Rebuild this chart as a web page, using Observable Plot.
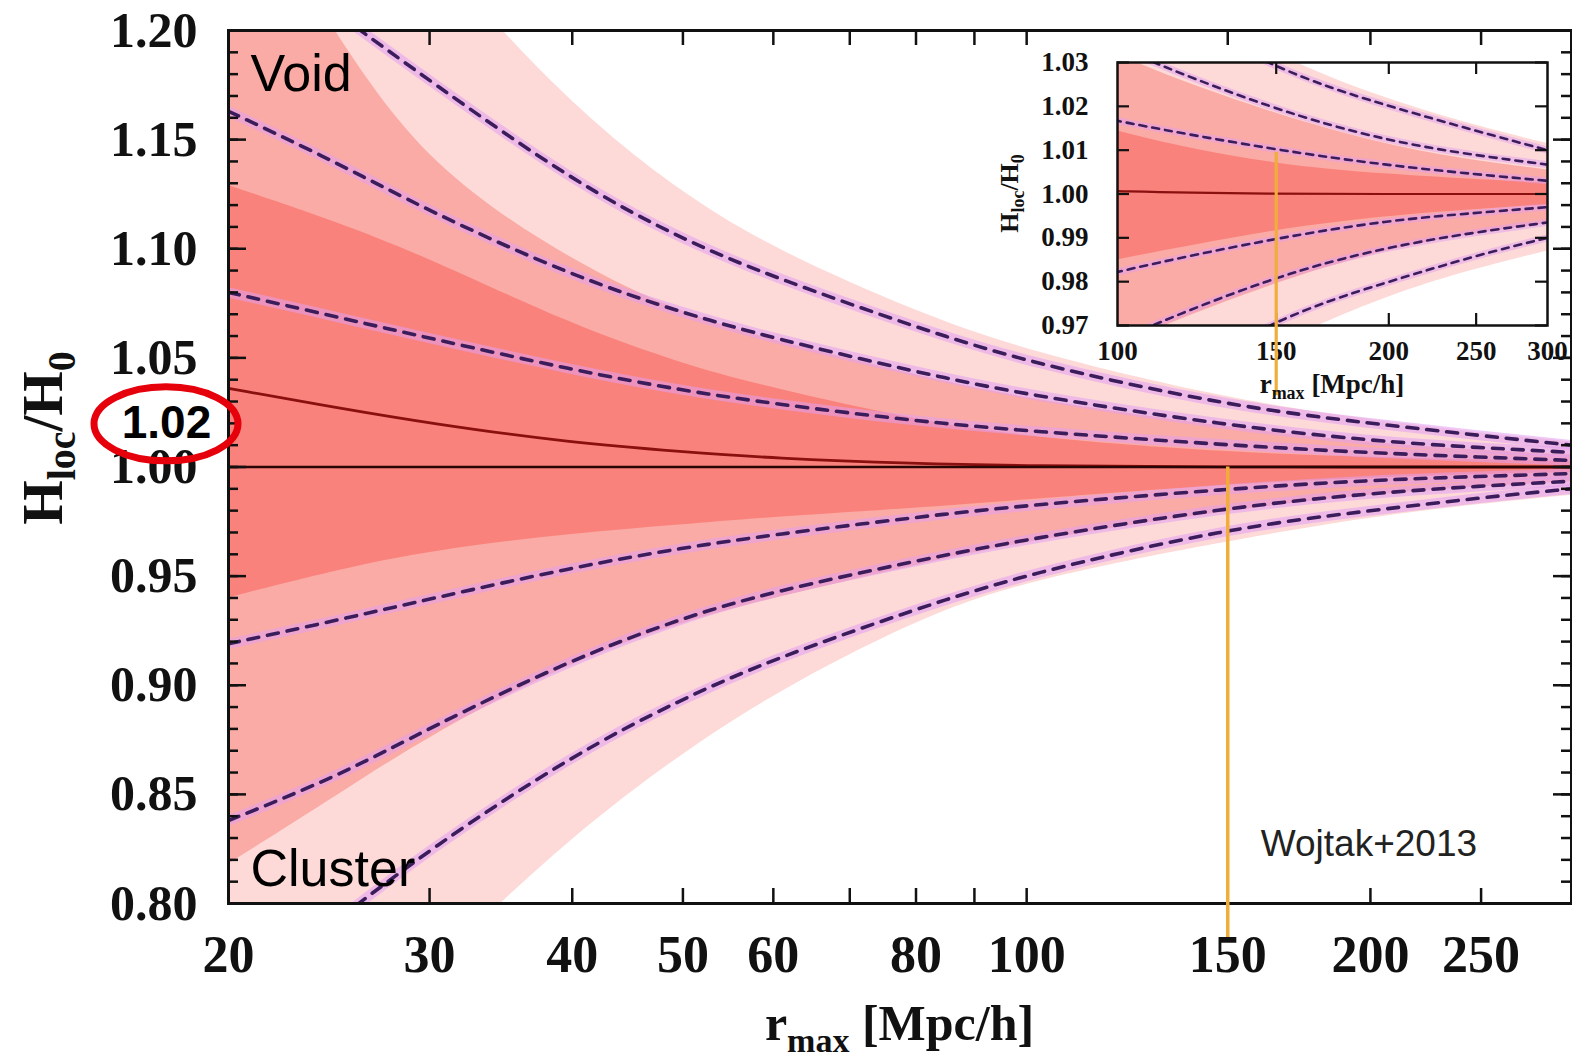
<!DOCTYPE html>
<html><head><meta charset="utf-8">
<script src="https://cdn.jsdelivr.net/npm/d3@7"></script>
<script src="https://cdn.jsdelivr.net/npm/@observablehq/plot@0.6"></script>
<style>
body{margin:0;background:#fff;}
#wrap{position:relative;width:1572px;height:1064px;overflow:hidden;background:#fff;}
#wrap svg{position:absolute;left:0;top:0;}
#wrap svg.inset{left:990px;top:40px;}
</style></head><body><div id="wrap"></div>
<script>
// ---- data ----
const rMax  = [20, 25, 30, 40, 50, 60, 80, 100, 150, 200, 250, 300];
const meanH = [1.036, 1.027, 1.020, 1.011, 1.007, 1.004, 1.0015, 1.0005, 1.000, 1.000, 1.000, 1.000];
// dashed curves (1/2/3 sigma)
const d1u = [1.080, 1.0685, 1.059, 1.0445, 1.035, 1.029, 1.021, 1.0165, 1.010, 1.0065, 1.0045, 1.003];
const d2u = [1.163, 1.139, 1.117, 1.0875, 1.0705, 1.059, 1.0435, 1.033, 1.019, 1.012, 1.0088, 1.0067];
const d3u = [1.245, 1.207, 1.177, 1.131, 1.104, 1.087, 1.064, 1.048, 1.028, 1.020, 1.0144, 1.010];
const d1l = [0.919, 0.930, 0.9395, 0.954, 0.963, 0.969, 0.977, 0.9825, 0.990, 0.994, 0.9957, 0.997];
const d2l = [0.838, 0.8585, 0.8805, 0.912, 0.931, 0.943, 0.957, 0.967, 0.9815, 0.988, 0.9913, 0.9935];
const d3l = [0.755, 0.793, 0.825, 0.868, 0.894, 0.912, 0.935, 0.951, 0.972, 0.980, 0.986, 0.990];
// shaded bands
const b1u = [1.129, 1.112, 1.0955, 1.065, 1.047, 1.036, 1.0215, 1.0135, 1.0065, 1.0045, 1.0033, 1.0025];
const b1l = [0.940, 0.953, 0.9615, 0.9695, 0.9735, 0.977, 0.981, 0.985, 0.992, 0.995, 0.9965, 0.9975];
const b2u = [1.280, 1.195, 1.137, 1.094, 1.070, 1.058, 1.042, 1.031, 1.018, 1.011, 1.0075, 1.0055];
const b2l = [0.818, 0.850, 0.877, 0.911, 0.929, 0.940, 0.955, 0.966, 0.980, 0.9875, 0.991, 0.9933];
const b3u = [1.400, 1.310, 1.235, 1.165, 1.125, 1.100, 1.071, 1.053, 1.031, 1.0215, 1.0155, 1.0115];
const b3l = [0.650, 0.720, 0.770, 0.831, 0.869, 0.896, 0.930, 0.948, 0.966, 0.977, 0.983, 0.987];

const xTickVals   = [30, 40, 50, 60, 70, 80, 90, 100, 150, 200, 250];
const xLabelVals  = [20, 30, 40, 50, 60, 80, 100, 150, 200, 250];
const yMajorVals  = [0.80, 0.85, 0.90, 0.95, 1.00, 1.05, 1.10, 1.15, 1.20];
const yMinorVals  = d3.range(80, 121).map(v => v / 100);
const insetXTicks = [150, 200, 250];
const insetXLabels = [100, 150, 200, 250, 300];
const insetYVals  = [0.97, 0.98, 0.99, 1.00, 1.01, 1.02, 1.03];
const markRadius  = 150;          // Wojtak+2013 scale
const highlight   = 1.02;

const rows = rMax.map((r, i) => ({
  r, mean: meanH[i],
  d1u: d1u[i], d2u: d2u[i], d3u: d3u[i], d1l: d1l[i], d2l: d2l[i], d3l: d3l[i],
  b1u: b1u[i], b1l: b1l[i], b2u: b2u[i], b2l: b2l[i], b3u: b3u[i], b3l: b3l[i]
}));
const dashKeys = ["d1u", "d2u", "d3u", "d1l", "d2l", "d3l"];

// ---- styles ----
const serif = "'Liberation Serif','Times New Roman',serif";
const sans = "'Liberation Sans',Arial,Helvetica,sans-serif";
const cLight = "#fddad7", cMed = "#fbaba5", cDark = "#f9837c";
const cHalo = "#e29ef2", cDash = "#3b1d5c", cOrange = "#f0ad3a";
const curve = "basis";

// ---- main chart ----
const W = 1572, H = 1064, mL = 228, mR = 1, mT = 30, mB = 161;
const iw = W - mL - mR, ih = H - mT - mB;
const tick = {stroke: "#111", strokeWidth: 2.5};

const main = Plot.plot({
  width: W, height: H, marginLeft: mL, marginRight: mR, marginTop: mT, marginBottom: mB,
  x: {type: "log", domain: [20, 300]},
  y: {domain: [0.8, 1.2]},
  style: {fontFamily: serif, background: "transparent", overflow: "visible"},
  marks: [
    Plot.areaY(rows, {x: "r", y1: "b3l", y2: "b3u", fill: cLight, curve, clip: true}),
    Plot.areaY(rows, {x: "r", y1: "b2l", y2: "b2u", fill: cMed, curve, clip: true}),
    Plot.areaY(rows, {x: "r", y1: "b1l", y2: "b1u", fill: cDark, curve, clip: true}),
    ...dashKeys.map(k => Plot.line(rows, {x: "r", y: k, stroke: cHalo, strokeWidth: 10, strokeOpacity: 0.55, curve, clip: true})),
    ...dashKeys.map(k => Plot.line(rows, {x: "r", y: k, stroke: cDash, strokeWidth: 3.6, strokeDasharray: "11,9", curve, clip: true})),
    Plot.line(rows, {x: "r", y: "mean", stroke: "#8a0f0f", strokeWidth: 2.8, curve, clip: true}),
    Plot.ruleY([1], {stroke: "#2a0505", strokeWidth: 2.6}),
    Plot.tickX(xTickVals, {x: d => d, insetTop: ih - 15, ...tick}),
    Plot.tickX(xTickVals, {x: d => d, insetBottom: ih - 15, ...tick}),
    Plot.tickY(yMinorVals, {y: d => d, insetRight: iw - 10, ...tick}),
    Plot.tickY(yMajorVals, {y: d => d, insetRight: iw - 18, ...tick}),
    Plot.tickY(yMinorVals, {y: d => d, insetLeft: iw - 10, ...tick}),
    Plot.tickY(yMajorVals, {y: d => d, insetLeft: iw - 18, ...tick}),
    Plot.frame({stroke: "#111", strokeWidth: 3}),
    Plot.axisX(xLabelVals, {tickSize: 0, tickPadding: 32, fontSize: 52, fontWeight: "bold", fill: "#111", tickFormat: d => String(d), label: null}),
    Plot.axisY(yMajorVals, {tickSize: 0, tickPadding: 31, fontSize: 50, fontWeight: "bold", fill: "#111", tickFormat: d3.format(".2f"), label: null}),
    Plot.ruleX([markRadius], {y1: 1.0, y2: 0.7844, stroke: cOrange, strokeWidth: 3.5}),
    Plot.text(["Void"], {frameAnchor: "top-left", dx: 22, dy: 60, lineAnchor: "bottom", textAnchor: "start", fontSize: 52, fontFamily: sans, fill: "#000"}),
    Plot.text(["Cluster"], {frameAnchor: "bottom-left", dx: 22, dy: -18, lineAnchor: "bottom", textAnchor: "start", fontSize: 52, fontFamily: sans, fill: "#000"}),
    Plot.text(["Wojtak+2013"], {x: () => markRadius, y: () => 0.8, dx: 33, dy: -48, lineAnchor: "bottom", textAnchor: "start", fontSize: 37, fontFamily: sans, fill: "#222"}),
    Plot.text([highlight], {y: d => d, frameAnchor: "left", dx: -62, text: d => d.toFixed(2), textAnchor: "middle", fontSize: 46, fontWeight: "bold", fontFamily: sans, fill: "#000"})
  ]
});
document.getElementById("wrap").appendChild(main);

const ms = d3.select(main);
const ys = main.scale("y");
ms.append("ellipse")
  .attr("cx", mL - 62).attr("cy", ys.apply(highlight) + 1)
  .attr("rx", 72).attr("ry", 37)
  .attr("fill", "none").attr("stroke", "#e6000c").attr("stroke-width", 7);

// axis titles with subscripts
const xt = ms.append("text").attr("x", mL + iw / 2).attr("y", 1040)
  .attr("text-anchor", "middle").attr("font-family", serif).attr("font-weight", "bold").attr("fill", "#111").attr("font-size", 50);
xt.append("tspan").text("r");
xt.append("tspan").attr("font-size", 34).attr("dy", 12).text("max");
xt.append("tspan").attr("dy", -12).text(" [Mpc/h]");

const yt = ms.append("text").attr("transform", `translate(62,438) rotate(-90)`)
  .attr("text-anchor", "middle").attr("font-family", serif).attr("font-weight", "bold").attr("fill", "#111").attr("font-size", 57);
yt.append("tspan").text("H");
yt.append("tspan").attr("font-size", 40).attr("dy", 13).text("loc");
yt.append("tspan").attr("dy", -13).text("/H");
yt.append("tspan").attr("font-size", 40).attr("dy", 13).text("0");

// ---- inset ----
const IW = 572, IH = 370, iL = 127, iR = 15, iT = 22, iB = 85;
const iiw = IW - iL - iR, iih = IH - iT - iB;
const itick = {stroke: "#111", strokeWidth: 2.2};
const inset = Plot.plot({
  width: IW, height: IH, marginLeft: iL, marginRight: iR, marginTop: iT, marginBottom: iB,
  x: {type: "log", domain: [100, 300]},
  y: {domain: [0.97, 1.03]},
  style: {fontFamily: serif, background: "transparent", overflow: "visible"},
  marks: [
    Plot.frame({fill: "white"}),
    Plot.areaY(rows, {x: "r", y1: "b3l", y2: "b3u", fill: cLight, curve, clip: true}),
    Plot.areaY(rows, {x: "r", y1: "b2l", y2: "b2u", fill: cMed, curve, clip: true}),
    Plot.areaY(rows, {x: "r", y1: "b1l", y2: "b1u", fill: cDark, curve, clip: true}),
    ...dashKeys.map(k => Plot.line(rows, {x: "r", y: k, stroke: cHalo, strokeWidth: 7, strokeOpacity: 0.5, curve, clip: true})),
    ...dashKeys.map(k => Plot.line(rows, {x: "r", y: k, stroke: cDash, strokeWidth: 2.6, strokeDasharray: "7,6", curve, clip: true})),
    Plot.line(rows, {x: "r", y: "mean", stroke: "#8a0f0f", strokeWidth: 2.2, curve, clip: true}),
    Plot.tickX(insetXTicks, {x: d => d, insetTop: iih - 12, ...itick}),
    Plot.tickX(insetXTicks, {x: d => d, insetBottom: iih - 12, ...itick}),
    Plot.tickY(insetYVals, {y: d => d, insetRight: iiw - 12, ...itick}),
    Plot.tickY(insetYVals, {y: d => d, insetLeft: iiw - 12, ...itick}),
    Plot.frame({stroke: "#111", strokeWidth: 2.5}),
    Plot.axisX(insetXLabels, {tickSize: 0, tickPadding: 15, fontSize: 27, fontWeight: "bold", fill: "#111", tickFormat: d => String(d), label: null}),
    Plot.axisY(insetYVals, {tickSize: 0, tickPadding: 29, fontSize: 27, fontWeight: "bold", fill: "#111", tickFormat: d3.format(".2f"), label: null}),
    Plot.ruleX([markRadius], {y1: 1.0095, y2: 0.954, stroke: cOrange, strokeWidth: 3.2})
  ]
});
inset.classList.add("inset");
document.getElementById("wrap").appendChild(inset);

const is = d3.select(inset);
const ixt = is.append("text").attr("x", iL + iiw / 2).attr("y", 353)
  .attr("text-anchor", "middle").attr("font-family", serif).attr("font-weight", "bold").attr("fill", "#111").attr("font-size", 27);
ixt.append("tspan").text("r");
ixt.append("tspan").attr("font-size", 18).attr("dy", 6).text("max");
ixt.append("tspan").attr("dy", -6).text(" [Mpc/h]");
const iyt = is.append("text").attr("transform", `translate(28,${iT + iih / 2}) rotate(-90)`)
  .attr("text-anchor", "middle").attr("font-family", serif).attr("font-weight", "bold").attr("fill", "#111").attr("font-size", 26);
iyt.append("tspan").text("H");
iyt.append("tspan").attr("font-size", 18).attr("dy", 6).text("loc");
iyt.append("tspan").attr("dy", -6).text("/H");
iyt.append("tspan").attr("font-size", 18).attr("dy", 6).text("0");
</script>
</body></html>
